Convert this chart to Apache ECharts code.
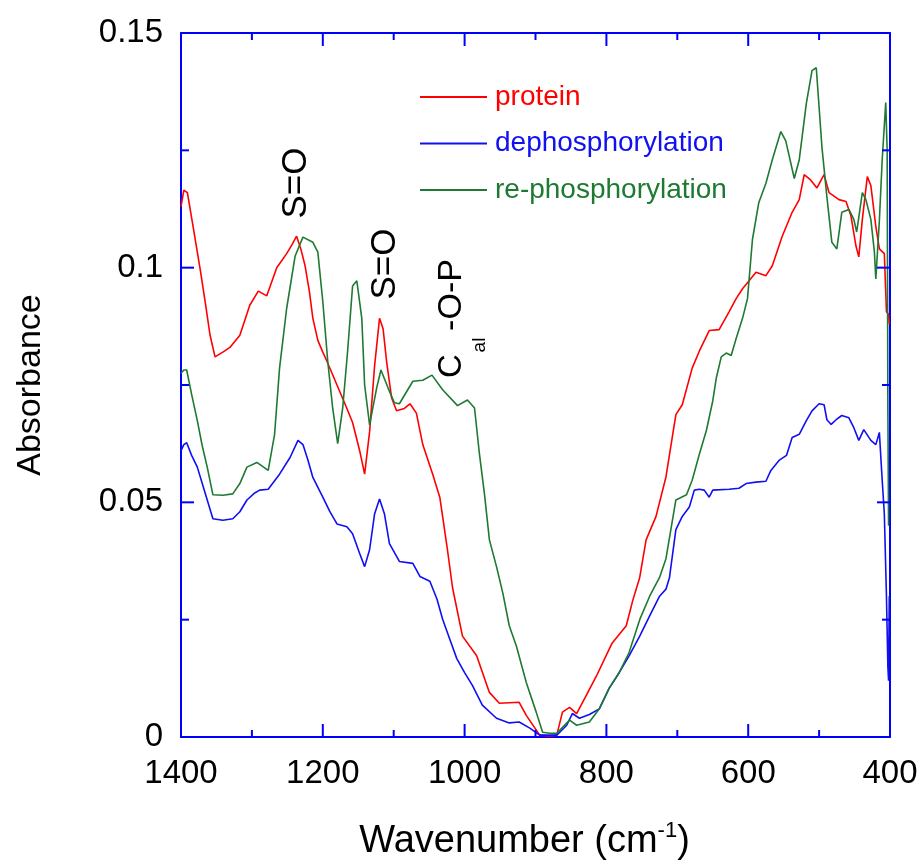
<!DOCTYPE html>
<html>
<head>
<meta charset="utf-8">
<script src="https://cdn.jsdelivr.net/npm/echarts@6/dist/echarts.min.js"></script>
<style>
html,body{margin:0;padding:0;background:#fff;}
#chart{width:922px;height:866px;}
</style>
</head>
<body>
<div id="chart"></div>
<script>
// Series names
const seriesNames = ['protein', 'dephosphorylation', 're-phosphorylation'];

// protein (red): wavenumber (cm-1) and absorbance
const proteinWn = [1400,1396,1391,1383,1373,1366,1359,1352,1341,1331,1317,1303,1291,1279,1265,1251,1243,1237,1231,1225,1219,1214,1207,1200,1194,1180,1166,1158,1148,1141,1134,1127,1120,1115,1110,1103,1096,1085,1077,1068,1059,1045,1035,1025,1017,1003,983,965,951,923,913,894,880,870,862,852,842,828,814,792,772,763,753,744,730,716,702,693,679,669,655,641,627,617,608,589,575,566,552,538,528,521,512,503,493,486,472,462,455,448,444,439,432,427,420,415,408,405,402,401];
const proteinAbs = [0.113,0.1165,0.116,0.1088,0.0997,0.0928,0.0856,0.081,0.082,0.083,0.0856,0.092,0.095,0.094,0.100,0.103,0.105,0.1067,0.104,0.1004,0.095,0.0892,0.0845,0.082,0.080,0.075,0.070,0.067,0.061,0.056,0.065,0.079,0.0892,0.087,0.080,0.0723,0.0695,0.070,0.0710,0.069,0.0623,0.056,0.0511,0.0408,0.0318,0.0215,0.0173,0.0095,0.0072,0.0074,0.0046,0.0004,0.0002,0.0004,0.0053,0.0063,0.005,0.009,0.013,0.020,0.0237,0.029,0.034,0.042,0.047,0.0554,0.0687,0.0708,0.0786,0.0822,0.0866,0.0868,0.0906,0.0934,0.0955,0.099,0.0983,0.1004,0.1067,0.1118,0.1145,0.1198,0.1187,0.117,0.1198,0.116,0.1145,0.1141,0.111,0.1046,0.1023,0.1103,0.1194,0.1175,0.1088,0.104,0.1030,0.0906,0.090,0.088];

// dephosphorylation (blue)
const dephosWn = [1400,1396,1392,1385,1377,1370,1363,1355,1341,1327,1317,1307,1296,1289,1277,1261,1246,1235,1228,1221,1214,1200,1190,1180,1166,1158,1148,1141,1134,1127,1120,1113,1106,1092,1073,1063,1049,1039,1031,1021,1011,1000,989,975,955,937,923,908,894,870,856,848,838,824,810,796,782,768,753,739,725,716,711,702,693,683,676,669,662,655,650,627,613,603,589,575,568,556,546,538,528,518,510,500,493,489,483,476,468,458,451,444,437,427,420,415,411,408,405,403,402,401];
const dephosAbs = [0.061,0.0623,0.0627,0.060,0.0575,0.054,0.0505,0.0465,0.0462,0.0465,0.048,0.0505,0.052,0.0526,0.0528,0.056,0.0596,0.0632,0.0623,0.059,0.0553,0.0511,0.048,0.0454,0.0448,0.0433,0.0391,0.0363,0.0399,0.0475,0.0507,0.0475,0.0412,0.0374,0.037,0.0342,0.0332,0.0294,0.0251,0.0209,0.0167,0.0137,0.011,0.0068,0.004,0.003,0.0032,0.0019,0.0004,0.0004,0.0025,0.005,0.004,0.0048,0.006,0.0104,0.0137,0.0173,0.0215,0.0258,0.030,0.0315,0.034,0.0442,0.047,0.049,0.0526,0.0528,0.0526,0.0511,0.0526,0.0528,0.053,0.054,0.0543,0.0545,0.0568,0.059,0.060,0.0638,0.0645,0.0674,0.0695,0.071,0.0708,0.0676,0.0666,0.0676,0.0685,0.068,0.0659,0.0632,0.0655,0.0632,0.0623,0.0649,0.0547,0.0475,0.030,0.015,0.012,0.030];

// re-phosphorylation (green)
const rephosWn = [1400,1396,1392,1385,1377,1370,1363,1355,1341,1327,1317,1307,1293,1277,1268,1261,1251,1239,1228,1214,1207,1200,1193,1186,1179,1172,1165,1158,1152,1145,1141,1134,1124,1118,1108,1099,1092,1073,1059,1046,1031,1010,996,986,979,972,965,955,946,937,927,913,899,890,880,870,852,842,824,810,796,782,768,753,739,725,716,702,687,679,669,659,650,645,638,631,624,617,608,601,594,585,575,566,554,547,535,528,518,510,504,496,489,482,475,468,458,451,447,439,434,427,422,420,415,411,406,404,403,402];
const rephosAbs = [0.0775,0.0782,0.0782,0.073,0.0674,0.062,0.0575,0.0516,0.0515,0.0518,0.054,0.0575,0.0585,0.0568,0.0645,0.0786,0.0913,0.1025,0.1065,0.1054,0.1033,0.0928,0.080,0.070,0.0625,0.070,0.0822,0.0961,0.0972,0.0892,0.075,0.0665,0.0744,0.0782,0.0744,0.0712,0.0710,0.0758,0.076,0.0771,0.074,0.0706,0.0718,0.0701,0.0602,0.0518,0.042,0.0363,0.0306,0.0237,0.0194,0.0116,0.0053,0.001,0.0008,0.0008,0.0036,0.0025,0.0032,0.006,0.0104,0.0137,0.018,0.025,0.030,0.034,0.038,0.0505,0.0516,0.0547,0.0602,0.0653,0.0716,0.0765,0.081,0.0818,0.0813,0.0849,0.0892,0.0934,0.106,0.1139,0.118,0.123,0.129,0.127,0.119,0.123,0.135,0.142,0.1426,0.1257,0.1151,0.1054,0.104,0.1118,0.1124,0.1103,0.1076,0.116,0.1145,0.1103,0.1033,0.0976,0.110,0.123,0.1352,0.125,0.070,0.045];

// Axis tick settings and tick positions (frame ticks on all four sides)
const xTicks = {min: 400, max: 1400, interval: 200};
const yTicks = {min: 0, max: 0.15, interval: 0.05};
const xMajorTicks = [600, 800, 1000, 1200];
const xMinorTicks = [500, 700, 900, 1100, 1300];
const yMajorTicks = [0.05, 0.1];
const yMinorTicks = [0.025, 0.075, 0.125];

const zip = (a, b) => a.map((v, i) => [v, b[i]]);
const colors = ['#ff0000', '#1010f0', '#1e7a32'];
const axisBlue = '#0000ff';
const FONT = 'Liberation Sans, Arial, sans-serif';

function xAxisCfg(pos, withLabels) {
  return {
    type: 'value', position: pos, inverse: true,
    min: xTicks.min, max: xTicks.max, interval: xTicks.interval,
    axisLine: {show: true, onZero: false, lineStyle: {color: axisBlue, width: 2}},
    axisTick: {show: false},
    minorTick: {show: false},
    splitLine: {show: false},
    axisLabel: {show: withLabels, color: '#000', fontSize: 33, fontFamily: FONT, margin: 20,
      formatter: v => String(v)},
    name: withLabels ? '{a|Wavenumber (cm}{b|-1}{a|)}' : '',
    nameLocation: 'middle', nameGap: 83,
    nameTextStyle: {padding: [0, 22, 0, 0], rich: {
      a: {fontSize: 38, fontFamily: FONT, color: '#000', lineHeight: 44},
      b: {fontSize: 22, fontFamily: FONT, color: '#000', lineHeight: 24, verticalAlign: 'top'}
    }}
  };
}
function yAxisCfg(pos, withLabels) {
  return {
    type: 'value', position: pos,
    min: yTicks.min, max: yTicks.max, interval: yTicks.interval,
    axisLine: {show: true, onZero: false, lineStyle: {color: axisBlue, width: 2}},
    axisTick: {show: false},
    minorTick: {show: false},
    splitLine: {show: false},
    axisLabel: {show: withLabels, color: '#000', fontSize: 33, fontFamily: FONT, margin: 18},
    name: withLabels ? 'Absorbance' : '',
    nameLocation: 'middle', nameGap: 133,
    nameTextStyle: {fontSize: 34, fontFamily: FONT, color: '#000'}
  };
}

// Frame tick marks: [wavenumber, absorbance, kind] (0 x-major, 1 x-minor, 2 y-major, 3 y-minor)
const tickData = [].concat(
  xMajorTicks.map(v => [v, 0, 0]),
  xMinorTicks.map(v => [v, 0, 1]),
  yMajorTicks.map(v => [xTicks.max, v, 2]),
  yMinorTicks.map(v => [xTicks.max, v, 3])
);
function renderTick(params, api) {
  const cs = params.coordSys;
  const kind = api.value(2);
  const p = api.coord([api.value(0), api.value(1)]);
  const style = {stroke: axisBlue, lineWidth: 2};
  const top = cs.y, bottom = cs.y + cs.height, left = cs.x, right = cs.x + cs.width;
  if (kind < 2) {
    const len = kind === 0 ? 13 : 7;
    return {type: 'group', children: [
      {type: 'line', shape: {x1: p[0], y1: bottom, x2: p[0], y2: bottom - len}, style},
      {type: 'line', shape: {x1: p[0], y1: top, x2: p[0], y2: top + len}, style}
    ]};
  }
  const len = kind === 2 ? 13 : 8;
  return {type: 'group', children: [
    {type: 'line', shape: {x1: left, y1: p[1], x2: left + len, y2: p[1]}, style},
    {type: 'line', shape: {x1: right, y1: p[1], x2: right - len, y2: p[1]}, style}
  ]};
}

const chart = echarts.init(document.getElementById('chart'), null, {renderer: 'canvas'});
const wnArrays = [proteinWn, dephosWn, rephosWn];
const absArrays = [proteinAbs, dephosAbs, rephosAbs];

chart.setOption({
  animation: false,
  grid: {left: 181, right: 32, top: 33, bottom: 124},
  xAxis: [xAxisCfg('bottom', true), xAxisCfg('top', false)],
  yAxis: [yAxisCfg('left', true), yAxisCfg('right', false)],
  legend: {
    orient: 'vertical', left: 415, top: 78, itemGap: 18.5,
    icon: 'rect', itemWidth: 67, itemHeight: 2,
    textStyle: {fontSize: 28, fontFamily: FONT, padding: [0, 0, 0, 3]},
    data: seriesNames.map((n, i) => ({name: n, textStyle: {color: colors[i]}}))
  },
  series: seriesNames.map((n, i) => ({
    name: n, type: 'line', xAxisIndex: 0, yAxisIndex: 0,
    data: zip(wnArrays[i], absArrays[i]),
    showSymbol: false, symbol: 'none',
    lineStyle: {color: colors[i], width: 1.6},
    itemStyle: {color: colors[i]},
    z: 2 + i
  })).concat([{
    name: 'frameTicks', type: 'custom', xAxisIndex: 0, yAxisIndex: 0,
    data: tickData, renderItem: renderTick, silent: true, clip: false, z: 10,
    encode: {x: 0, y: 1}
  }]),
  graphic: [
    {type: 'text', x: 296, y: 183, rotation: Math.PI / 2,
     style: {text: 'S=O', fontSize: 35, fontFamily: FONT, fill: '#000', align: 'center', verticalAlign: 'middle'}},
    {type: 'text', x: 385, y: 264, rotation: Math.PI / 2,
     style: {text: 'S=O', fontSize: 35, fontFamily: FONT, fill: '#000', align: 'center', verticalAlign: 'middle'}},
    {type: 'text', x: 452, y: 366, rotation: Math.PI / 2,
     style: {text: 'C', fontSize: 33, fontFamily: FONT, fill: '#000', align: 'center', verticalAlign: 'middle'}},
    {type: 'text', x: 480, y: 345, rotation: Math.PI / 2,
     style: {text: 'al', fontSize: 19, fontFamily: FONT, fill: '#000', align: 'center', verticalAlign: 'middle'}},
    {type: 'text', x: 452, y: 295, rotation: Math.PI / 2,
     style: {text: '-O-P', fontSize: 34, fontFamily: FONT, fill: '#000', align: 'center', verticalAlign: 'middle'}}
  ]
});
</script>
</body>
</html>
